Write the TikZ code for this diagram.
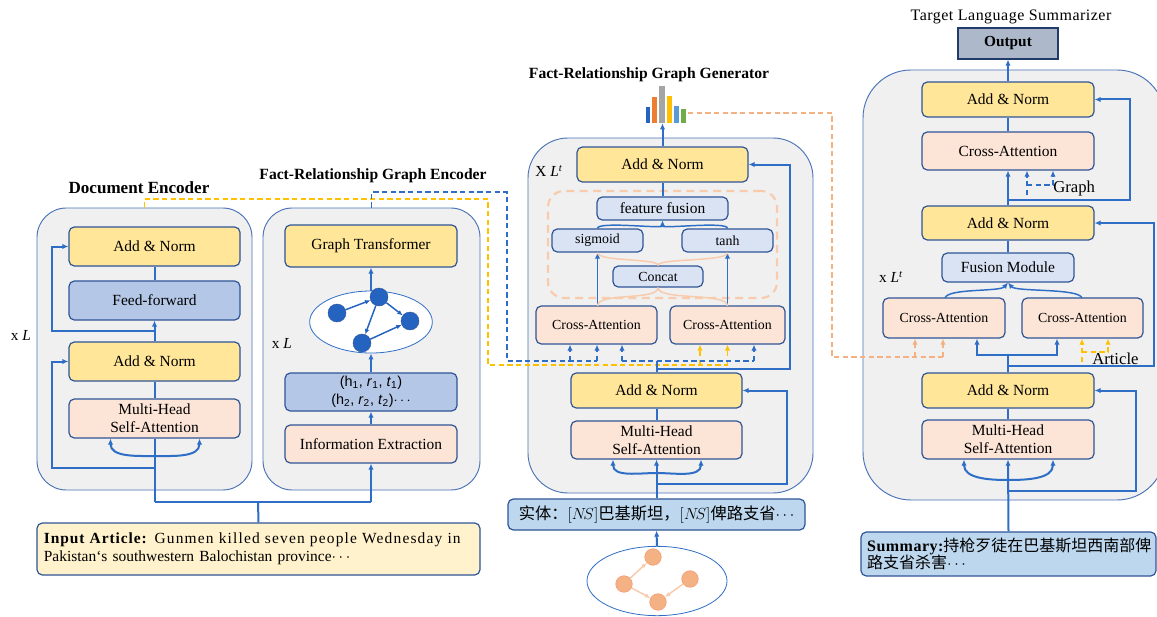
\documentclass[tikz,border=0pt]{standalone}
\usepackage{fontspec}
\setmainfont{Liberation Serif}
\setsansfont{Liberation Sans}
\newfontfamily\cjk{Noto Sans CJK SC}
\usetikzlibrary{arrows.meta,fit,calc,shapes.geometric}
\definecolor{cbord}{HTML}{2F5597}
\definecolor{cline}{HTML}{2E6EC6}
\definecolor{cyel}{HTML}{FFE699}
\definecolor{cpink}{HTML}{FCE4D6}
\definecolor{cmblue}{HTML}{B4C7E7}
\definecolor{clav}{HTML}{DAE3F3}
\definecolor{cgreybg}{HTML}{F0F0F0}
\definecolor{ccont}{HTML}{4A72B8}
\definecolor{cgold}{HTML}{FFC000}
\definecolor{corgd}{HTML}{F4B183}
\definecolor{corgl}{HTML}{F8CBAD}
\definecolor{cent}{HTML}{BDD7EE}
\definecolor{cout}{HTML}{ADB9CA}
\definecolor{cinput}{HTML}{FFF2CC}
\definecolor{cnode}{HTML}{2563C0}
\definecolor{cnodeo}{HTML}{F4B183}
\definecolor{cbar2}{HTML}{ED7D31}
\definecolor{cbar3}{HTML}{A5A5A5}
\definecolor{cbar5}{HTML}{5B9BD5}
\definecolor{cbar6}{HTML}{70AD47}
\tikzset{
 >={Latex[length=4.5pt,width=4pt]},
 box/.style={draw=cbord, line width=0.9pt, rounded corners=4pt, inner sep=0pt, align=center, font=\fontsize{11.6}{13.5}\selectfont},
 sbox/.style={box, font=\fontsize{10.4}{12}\selectfont},
 yel/.style={box, fill=cyel},
 pnk/.style={box, fill=cpink},
 spnk/.style={sbox, fill=cpink},
 mbl/.style={box, fill=cmblue},
 lav/.style={box, fill=clav},
 slav/.style={sbox, fill=clav},
 cont/.style={draw=ccont, line width=0.7pt, fill=cgreybg, rounded corners=22pt, inner sep=0pt},
 ttl/.style={font=\bfseries\fontsize{11.7}{14}\selectfont},
 lbl/.style={font=\fontsize{11.5}{13}\selectfont},
 link/.style={draw=cline, line width=1.5pt},
 thin/.style={draw=cline, line width=1.1pt},
 ydash/.style={draw=cgold, line width=1.3pt, dash pattern=on 4pt off 2.5pt},
 bdash/.style={draw=cline, line width=1.3pt, dash pattern=on 4pt off 2.5pt},
 odash/.style={draw=corgd, line width=1.2pt, dash pattern=on 4pt off 2.5pt},
 ocurve/.style={draw=corgl, line width=1.1pt},
 gn/.style={circle, fill=cnode, draw=cbord, line width=0.3pt, minimum size=13.5pt, inner sep=0pt},
 on/.style={circle, fill=cnodeo, draw=corgd!80!red, line width=0.3pt, minimum size=12.5pt, inner sep=0pt},
 gedge/.style={draw=cnode, line width=1.1pt, -{Latex[length=4pt,width=3.5pt]}},
 oedge/.style={draw=corgl, line width=1.1pt, -{Latex[length=4pt,width=3.5pt]}},
}
% \mybox{style}{name}{x1}{y1}{x2}{y2}{text}
\newcommand{\mybox}[7]{\node[#1, minimum width={(#5-#3)*0.75pt}, minimum height={(#6-#4)*0.75pt}] (#2) at ({(#3+#5)/2},{(#4+#6)/2}) {#7};}
\begin{document}
\begin{tikzpicture}[x=0.75pt,y=-0.75pt]
\useasboundingbox (0,0) rectangle (1157,617);
\clip (0,0) rectangle (1157,617);
\fill[white] (0,0) rectangle (1157,617);

% ---------- containers ----------
\node[cont, fit={(37,208)(252,490)}] (c1) {};
\node[cont, fit={(263,208)(480,490)}] (c2) {};
\node[cont, rounded corners=30pt, fit={(528,138)(813,493)}] (c3) {};
\node[cont, rounded corners=36pt, fit={(863,70)(1165,500)}] (c4) {};

% ---------- titles ----------
\node[ttl, font=\bfseries\fontsize{12.8}{15}\selectfont] (t1) at (139,188) {Document Encoder};
\node[ttl] (t2) at (373,176) {Fact-Relationship Graph Encoder};
\node[ttl] (t3) at (649,75) {Fact-Relationship Graph Generator};
\node[font=\fontsize{12}{14}\selectfont\addfontfeature{LetterSpace=3}] (t4) at (1011,17) {Target Language Summarizer};

% ---------- repetition labels ----------
\node[lbl] (x1) at (21,335) {x \textit{L}};
\node[lbl] (x2) at (282,343) {x \textit{L}};
\node[lbl] (x3) at (549,171) {X \textit{L}\textsuperscript{\textit{t}}};
\node[lbl] (x4) at (891,277) {x \textit{L}\textsuperscript{\textit{t}}};

% ---------- Document encoder ----------
\mybox{yel}{d4}{69}{227}{240}{266}{Add \& Norm}
\mybox{mbl}{d3}{69}{281}{240}{320}{Feed-forward}
\mybox{yel}{d2}{69}{342}{240}{381}{Add \& Norm}
\mybox{pnk}{d1}{69}{399}{240}{438}{Multi-Head\\Self-Attention}

\coordinate (dj) at (154.5,502);
\coordinate (da) at (154.5,456);
\coordinate (dr1) at (154.5,468);
\coordinate (dr2) at (154.5,331);
\draw[link] (dj) -- (d1.south);
\draw[link,->] (da) to[out=180,in=-90] ($(d1.south)+(-44,0)$);
\draw[link,->] (da) to[out=0,in=-90] ($(d1.south)+(45,0)$);
\draw[link] (d1.north) -- (d2.south);
\draw[link,->] (d2.north) -- (d3.south);
\draw[link] (d3.north) -- (d4.south);
\draw[link,->] (dr1) -- (52,468) |- (d2.west);
\draw[link,->] (dr2) -- (52,331) |- (d4.west);

% ---------- Graph encoder ----------
\mybox{yel}{g4}{285}{225}{457}{267}{Graph Transformer}
\node[ellipse, draw=cline, line width=0.6pt, fill=white, minimum width=92pt, minimum height=46.5pt, inner sep=0pt] (g3) at (371,322) {};
\node[gn] (n1) at (337,313) {};
\node[gn] (n2) at (379,297) {};
\node[gn] (n3) at (410,321) {};
\node[gn] (n4) at (362,343) {};
\draw[gedge] (n1) -- (n2);
\draw[gedge] (n2) -- (n3);
\draw[gedge] (n2) -- (n4);
\draw[gedge] (n4) -- (n3);
\mybox{mbl, font=\sffamily\fontsize{10.8}{13.5}\selectfont}{g2}{285}{373}{457}{411}{(h\textsubscript{1}, \textit{r}\textsubscript{1}, \textit{t}\textsubscript{1})\\(h\textsubscript{2}, \textit{r}\textsubscript{2}, \textit{t}\textsubscript{2})$\cdots$}
\mybox{pnk}{g1}{285}{425}{457}{463}{Information Extraction}
\coordinate (gj) at (371,502);
\coordinate (ij) at (258,502);
\draw[link,->] (gj) -- (g1.south);
\draw[link,->] (g1.north) -- (g2.south);
\draw[link,->] (g2.north) -- (g3.south);
\draw[link,->] (g3.north) -- (g4.south);

% ---------- Input article ----------
\mybox{box, fill=cinput, align=left, text width=322pt, font=\fontsize{11.6}{13.6}\selectfont}{inp}{37}{523}{480}{575}{{\addfontfeature{LetterSpace=6}\bfseries Input Article:} {\addfontfeature{LetterSpace=7.5}Gunmen killed seven people Wednesday in}\\Pakistan‘s southwestern Balochistan province$\cdots$}
\draw[link] (dj) -- (gj);
\draw[link] (ij) -- (inp.north);

% ---------- Generator ----------
\mybox{yel}{f8}{577}{147}{748}{182}{Add \& Norm}
\node[draw=corgl, line width=1.6pt, dash pattern=on 6pt off 4pt, rounded corners=12pt, inner sep=0pt, fit={(548,191)(777,298)}] (frect) {};
\mybox{lav}{f7}{597}{197}{728}{220}{feature fusion}
\mybox{slav}{fsig}{552}{229}{643}{252}{sigmoid}
\mybox{slav}{ftanh}{682}{229}{773}{252}{tanh}
\mybox{slav}{fcc}{613}{266}{703}{287}{Concat}
\mybox{spnk}{fcaL}{536}{306}{657}{344}{Cross-Attention}
\mybox{spnk}{fcaR}{670}{306}{785}{344}{Cross-Attention}
\mybox{yel}{f2}{571}{373}{742}{408}{Add \& Norm}
\mybox{pnk}{f1}{571}{421}{742}{459}{Multi-Head\\Self-Attention}
\mybox{box, fill=cent, font=\fontsize{12.2}{13}\selectfont}{fent}{508}{499}{805}{530}{{\cjk 实体：}$[N\!S]${\cjk 巴基斯坦，}$[N\!S]${\cjk 俾路支省}$\cdots$}
\node[ellipse, draw=cline, line width=0.6pt, fill=white, minimum width=105pt, minimum height=52pt, inner sep=0pt] (fell) at (657,581) {};
\node[on] (o1) at (653,557) {};
\node[on] (o2) at (624,584) {};
\node[on] (o3) at (690,579) {};
\node[on] (o4) at (658,602) {};
\draw[oedge] (o2) -- (o1);
\draw[oedge] (o2) -- (o4);
\draw[oedge] (o3) -- (o4);
\draw[link,->] (fell.north) -- (fent.south);
\draw[link,->] (fent.north) -- (f1.south);
\coordinate (fa) at (656.5,473);
\draw[link,->] (fa) to[out=180,in=-90] ($(f1.south)+(-43.5,0)$);
\draw[link,->] (fa) to[out=0,in=-90] ($(f1.south)+(44.5,0)$);
\coordinate (fr1) at (656.5,484);
\draw[link,->] (fr1) -- (787,484) |- (f2.east);
\draw[link] (f1.north) -- (f2.south);
\coordinate (fj) at (656.5,361);
\coordinate (fr2) at (656.5,369);
\draw[link] (f2.north) -- (fj);
\draw[link,->] (fr2) -- (790,369) |- (f8.east);
% internals
\coordinate (fLt) at (597.5,306);
\coordinate (fRt) at (727.5,306);
\draw[thin,->] (fLt) -- (fsig.south);
\draw[thin,->] (fRt) -- (ftanh.south);
\draw[ocurve] (fLt) .. controls (597.5,292) and (658,301) .. (fcc.south);
\draw[ocurve] (fRt) .. controls (727.5,292) and (658,301) .. (fcc.south);
\draw[ocurve] (fcc.north) .. controls (658,258) and (597.5,262) .. (fsig.south);
\draw[ocurve] (fcc.north) .. controls (658,258) and (727.5,262) .. (ftanh.south);
\draw[thin,->] (fsig.north) .. controls (597.5,221) and (662.5,229) .. (f7.south);
\draw[thin,->] (ftanh.north) .. controls (727.5,221) and (662.5,229) .. (f7.south);
\draw[link] (f7.north) -- (f8.south);
% bar chart
\fill[cnode] (645.7,106.7) rectangle (650.3,123.3);
\fill[cbar2] (652,97) rectangle (657,123.3);
\fill[cbar3] (659,86) rectangle (665,123.3);
\fill[cgold] (667,96) rectangle (672,123.3);
\fill[cbar5] (673.5,106) rectangle (679,123.3);
\fill[cbar6] (680.5,109.5) rectangle (686,123.3);
\coordinate (bar) at (662.5,123.3);
\coordinate (barR) at (688,113);
\draw[link,->] (f8.north) -- (bar);

% ---------- dashed routes into generator ----------
\coordinate (yA) at (700,365);
\coordinate (yB) at (727.5,365);
\draw[ydash] (c1.north) -- (144.5,199) -- (488,199) -- (488,365) -- (yB);
\draw[ydash,->] (yA) -- (yA |- fcaR.south);
\draw[ydash,->] (yB) -- (yB |- fcaR.south);
\coordinate (bA) at (570,361);
\coordinate (bB) at (597,361);
\draw[bdash] (c2.north) -- (371.5,192) -- (507,192) -- (507,361) -- (bB);
\draw[bdash,->] (bA) -- (bA |- fcaL.south);
\draw[bdash,->] (bB) -- (bB |- fcaL.south);
\coordinate (bC) at (622,361);
\coordinate (bD) at (754,361);
\draw[bdash,->] (bC) -- (bC |- fcaL.south);
\draw[bdash,->] (bD) -- (bD |- fcaR.south);
\draw[bdash] (bC) -- (bD);
\draw[link] (fj) -- (fr2);

% ---------- Summarizer ----------
\mybox{draw=cbord!70!black, line width=0.9pt, fill=cout, inner sep=0pt, font=\bfseries\fontsize{11.5}{13}\selectfont}{sout}{958}{28}{1058}{59}{Output}
\mybox{yel}{s8}{922}{82}{1094}{117}{Add \& Norm}
\mybox{pnk}{s7}{922}{132}{1094}{170}{Cross-Attention}
\mybox{yel}{s6}{922}{206}{1094}{240}{Add \& Norm}
\mybox{lav}{s5}{942}{253}{1074}{282}{Fusion Module}
\mybox{spnk}{scaL}{883}{298}{1005}{338}{Cross-Attention}
\mybox{spnk}{scaR}{1022}{298}{1143}{338}{Cross-Attention}
\mybox{yel}{s2}{922}{373}{1094}{408}{Add \& Norm}
\mybox{pnk}{s1}{922}{420}{1094}{459}{Multi-Head\\Self-Attention}
\mybox{box, fill=cent, align=left, text width=212pt, font=\fontsize{12}{12.8}\selectfont}{ssum}{861}{532}{1156}{576}{{\bfseries\addfontfeature{LetterSpace=3}Summary:}{\cjk 持枪歹徒在巴基斯坦西南部俾}\\{\cjk 路支省杀害}$\cdots$}

\draw[link,->] (ssum.north) -- (s1.south);
\coordinate (sa) at (1008,480);
\draw[link,->] (sa) to[out=180,in=-90] ($(s1.south)+(-44,0)$);
\draw[link,->] (sa) to[out=0,in=-90] ($(s1.south)+(45,0)$);
\coordinate (sr1) at (1008,491);
\draw[link,->] (sr1) -- (1136,491) |- (s2.east);
\draw[link] (s1.north) -- (s2.south);
\coordinate (sj) at (1008,355);
\coordinate (sr2) at (1008,366);
\coordinate (sL) at (977,355);
\coordinate (sR) at (1057,355);
\draw[link] (s2.north) -- (sj);
\draw[link,->] (sj) -- (sL) -- (sL |- scaL.south);
\draw[link,->] (sj) -- (sR) -- (sR |- scaR.south);
\draw[link,->] (sr2) -- (1154,366) |- (s6.east);
\coordinate (sLt) at (945,298);
\coordinate (sRt) at (1082,298);
\draw[thin,->] (sLt) .. controls (948,288) and (1000,292) .. (s5.south);
\draw[thin,->] (sRt) .. controls (1079,288) and (1016,292) .. (s5.south);
\draw[link] (s5.north) -- (s6.south);
\draw[link,->] (s6.north) -- (s7.south);
\coordinate (sr3) at (1008,200);
\draw[link,->] (sr3) -- (1130,200) |- (s8.east);
\draw[link] (s7.north) -- (s8.south);
\draw[link,->] (s8.north) -- (sout.south);
% graph dashed
\coordinate (gA) at (1027,185);
\coordinate (gB) at (1053,185);
\draw[bdash,->] (1027,195) -- (gA) -- (gA |- s7.south);
\draw[bdash,->] (gA) -- (gB) -- (gB |- s7.south);
\node[anchor=west, inner sep=0pt, font=\fontsize{12.5}{14}\selectfont] (lg) at (1053,188) {Graph};
% article dashed
\coordinate (aA) at (1082,352);
\coordinate (aB) at (1108,352);
\draw[ydash,->] (1082,362) -- (aA) -- (aA |- scaR.south);
\draw[ydash,->] (aA) -- (aB) -- (aB |- scaR.south);
\node[anchor=west, inner sep=0pt, font=\fontsize{12.5}{14}\selectfont] (la) at (1092,359) {Article};
% orange dashed from bar chart
\coordinate (oA) at (915,357);
\coordinate (oB) at (943,357);
\draw[odash] (barR) -- (832,113) -- (832,357) -- (oB);
\draw[odash,->] (oA) -- (oA |- scaL.south);
\draw[odash,->] (oB) -- (oB |- scaL.south);
\end{tikzpicture}
\end{document}
